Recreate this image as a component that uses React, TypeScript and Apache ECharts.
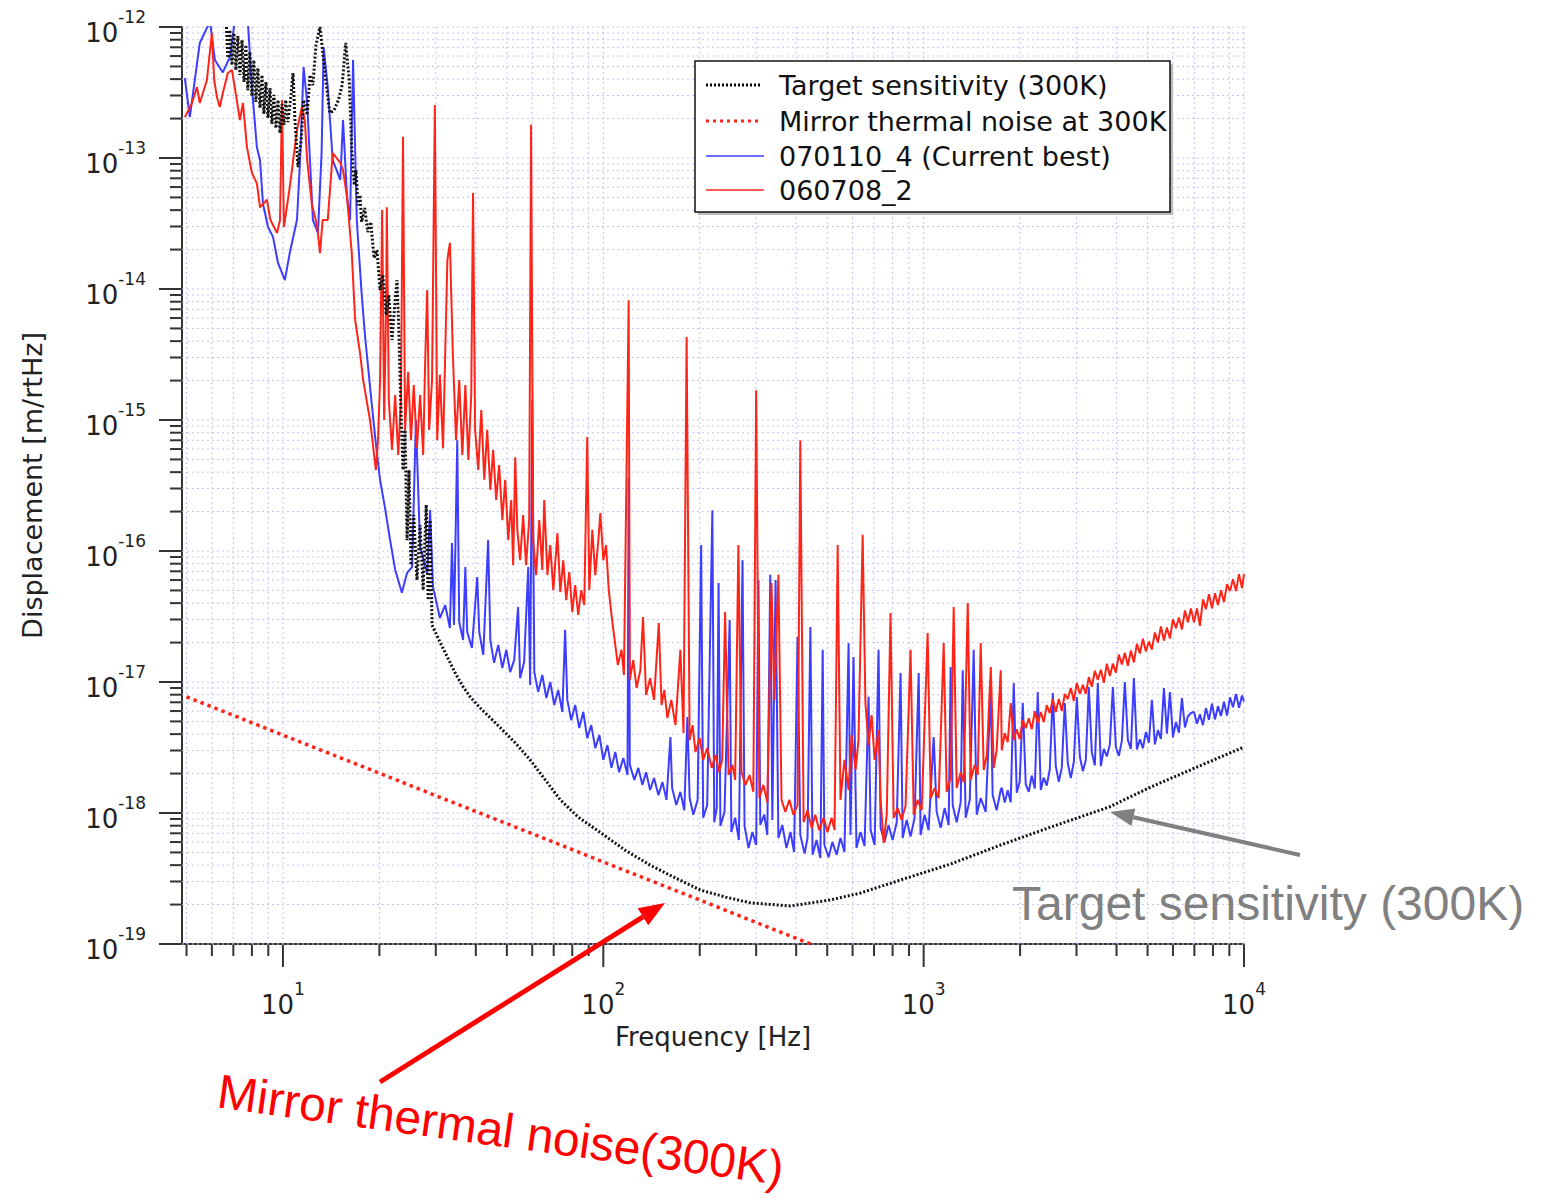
import React, { useEffect, useRef } from "react";
import * as echarts from "echarts";

const X_MIN = 4.84;
const X_MAX = 10000;
const Y_MIN = 1e-19;
const Y_MAX = 1e-12;

const seriesNames = [
  "Target sensitivity (300K)",
  "Mirror thermal noise at 300K",
  "070110_4 (Current best)",
  "060708_2",
];

const xMajorTicks = [10, 100, 1000, 10000];
const xMinorTicks = [
  5, 6, 7, 8, 9, 20, 30, 40, 50, 60, 70, 80, 90, 200, 300, 400, 500, 600, 700,
  800, 900, 2000, 3000, 4000, 5000, 6000, 7000, 8000, 9000,
];
const yMajorTicks = [1e-19, 1e-18, 1e-17, 1e-16, 1e-15, 1e-14, 1e-13, 1e-12];
const yMinorTicks = [
  2e-19, 3e-19, 4e-19, 5e-19, 6e-19, 7e-19, 8e-19, 9e-19,
  2e-18, 3e-18, 4e-18, 5e-18, 6e-18, 7e-18, 8e-18, 9e-18,
  2e-17, 3e-17, 4e-17, 5e-17, 6e-17, 7e-17, 8e-17, 9e-17,
  2e-16, 3e-16, 4e-16, 5e-16, 6e-16, 7e-16, 8e-16, 9e-16,
  2e-15, 3e-15, 4e-15, 5e-15, 6e-15, 7e-15, 8e-15, 9e-15,
  2e-14, 3e-14, 4e-14, 5e-14, 6e-14, 7e-14, 8e-14, 9e-14,
  2e-13, 3e-13, 4e-13, 5e-13, 6e-13, 7e-13, 8e-13, 9e-13,
];

// Target sensitivity (300K): [frequency Hz, displacement m/rtHz]
const targetSensitivity: [number, number][] = [
  [6.66, 1.0e-12], [6.73, 5.8e-13], [6.83, 9.5e-13], [6.93, 5.12e-13], [7.03, 9.0e-13],
  [7.13, 4.69e-13], [7.23, 8.53e-13], [7.34, 4.3e-13], [7.45, 7.95e-13], [7.56, 3.8e-13],
  [7.66, 7.3e-13], [7.77, 3.3e-13], [7.88, 6.44e-13], [8.0, 2.97e-13], [8.11, 5.59e-13],
  [8.23, 2.68e-13], [8.35, 4.86e-13], [8.48, 2.41e-13], [8.6, 4.3e-13], [8.72, 2.17e-13],
  [8.85, 3.8e-13], [8.98, 2.02e-13], [9.11, 3.42e-13], [9.24, 1.82e-13], [9.37, 3.03e-13],
  [9.51, 1.69e-13], [9.65, 2.77e-13], [9.79, 1.55e-13], [9.93, 2.58e-13], [10.07, 1.79e-13],
  [10.2, 2.77e-13], [10.36, 1.88e-13], [10.6, 3.03e-13], [10.75, 4.45e-13], [10.9, 1.95e-13],
  [11.14, 8.53e-14], [11.4, 1.37e-13], [11.6, 2.77e-13], [11.9, 2.13e-13], [12.14, 4.3e-13],
  [12.4, 3.6e-13], [12.68, 7.3e-13], [13.05, 1.0e-12], [13.34, 6.11e-13], [13.6, 3.94e-13],
  [14.0, 2.21e-13], [14.4, 2.29e-13], [14.9, 2.77e-13], [15.3, 3.6e-13], [15.7, 7.55e-13],
  [16.1, 3.94e-13], [16.4, 1.15e-13], [16.7, 6.22e-14], [16.9, 8.1e-14], [17.15, 4.37e-14],
  [17.4, 5.21e-14], [17.6, 3.25e-14], [18.0, 4.15e-14], [18.4, 2.72e-14], [18.8, 3.25e-14],
  [19.25, 1.72e-14], [19.65, 1.98e-14], [20.1, 9.8e-15], [20.5, 1.28e-14], [21.0, 6.33e-15],
  [21.4, 9.0e-15], [21.9, 4.08e-15], [22.4, 8.24e-15], [22.7, 1.17e-14], [23.0, 4.86e-15],
  [23.35, 1.19e-15], [23.7, 4.15e-16], [24.05, 8.4e-16], [24.4, 1.21e-16], [24.75, 4.15e-16],
  [25.1, 7.8e-17], [25.6, 1.88e-16], [26.2, 6.0e-17], [26.8, 1.58e-16], [27.4, 5.03e-17],
  [28.0, 2.25e-16], [28.4, 4.22e-17], [28.8, 1.72e-16], [29.2, 2.72e-17], [30.9, 2.02e-17],
  [32.6, 1.55e-17], [34.5, 1.17e-17], [36.5, 9.2e-18], [38.4, 7.7e-18], [41.3, 6.33e-18],
  [47.6, 4.5e-18], [53.2, 3.42e-18], [59.1, 2.54e-18], [65.9, 1.79e-18], [73.4, 1.26e-18],
  [83.5, 9.3e-19], [97.9, 7.1e-19], [117, 5.2e-19], [140, 4.0e-19], [168, 3.19e-19],
  [201, 2.58e-19], [241, 2.28e-19], [288, 2.06e-19], [384, 1.95e-19], [512, 2.17e-19],
  [635, 2.45e-19], [847, 3.08e-19], [1214, 4.08e-19], [1740, 5.7e-19], [2490, 7.8e-19],
  [3790, 1.11e-18], [5120, 1.58e-18], [7370, 2.32e-18], [10000, 3.19e-18],
];

// Mirror thermal noise at 300K
const mirrorThermal: [number, number][] = [
  [5.0, 7.7e-18], [444, 1.0e-19],
];

// 070110_4 (Current best)
const currentBest: [number, number][] = [
  [4.94, 4.08e-13], [5.12, 2.05e-13], [5.5, 7.55e-13], [5.75, 9.5e-13], [5.92, 1.1e-12],
  [6.13, 5.6e-13], [6.49, 4.5e-13], [6.83, 5.9e-13], [7.07, 1.1e-12], [7.77, 1.1e-12],
  [8.0, 3.48e-13], [8.29, 1.21e-13], [8.48, 9.65e-14], [8.66, 4.5e-14], [8.98, 2.97e-14],
  [9.31, 2.5e-14], [9.65, 1.58e-14], [10.14, 1.17e-14], [10.5, 1.88e-14], [11.06, 3.36e-14],
  [11.3, 9.2e-14], [11.6, 4.95e-13], [11.9, 2.63e-13], [12.4, 3.36e-14], [12.86, 2.68e-14],
  [13.2, 1.09e-13], [13.4, 7.0e-13], [13.8, 3.48e-13], [14.3, 9.65e-14], [15.1, 6.8e-14],
  [15.4, 1.95e-13], [15.85, 5.0e-14], [16.2, 3.36e-14], [16.55, 5.6e-13], [17.0, 3.36e-14],
  [17.6, 9.3e-15], [18.05, 4.3e-15], [18.7, 1.79e-15], [19.4, 7.4e-16], [20.1, 3.48e-16],
  [20.8, 2.17e-16], [21.6, 1.21e-16], [22.4, 7.2e-17], [23.5, 4.8e-17], [24.4, 6.8e-17],
  [25.3, 7.55e-17], [26.0, 1.0e-15], [26.8, 1.07e-16], [28.2, 6.8e-17], [28.8, 2.05e-16],
  [29.4, 5.3e-17], [29.8, 4.6e-17], [30.9, 3.08e-17], [32.1, 3.87e-17], [33.2, 2.58e-17],
  [33.7, 1.15e-16], [34.2, 2.72e-17], [35.0, 7.0e-16], [35.5, 2.87e-17], [36.5, 2.09e-17],
  [37.1, 7.55e-17], [37.6, 2.41e-17], [38.9, 1.82e-17], [40.4, 6.33e-17], [41.0, 2.41e-17],
  [42.2, 1.61e-17], [43.7, 1.21e-16], [44.4, 2.09e-17], [45.6, 1.4e-17], [47.0, 1.92e-17],
  [48.4, 1.28e-17], [49.8, 1.76e-17], [51.2, 1.19e-17], [52.7, 1.47e-17], [54.2, 3.73e-17],
  [55.0, 1.07e-17], [56.6, 1.42e-17], [58.3, 7.55e-17], [59.1, 9.5e-18], [60.0, 1.42e-15],
  [60.9, 1.19e-17], [62.6, 8.4e-18], [64.5, 1.13e-17], [66.4, 7.55e-18], [68.3, 1.0e-17],
  [70.3, 6.67e-18], [72.3, 8.7e-18], [74.5, 5.9e-18], [76.0, 2.5e-17], [77.2, 7.3e-18],
  [79.4, 5.1e-18], [81.7, 6.67e-18], [84.1, 4.45e-18], [86.6, 5.9e-18], [89.1, 3.73e-18],
  [91.7, 4.69e-18], [94.4, 3.13e-18], [97.2, 3.94e-18], [100, 2.54e-18], [103, 3.3e-18],
  [106, 2.21e-18], [109, 2.92e-18], [112, 2.05e-18], [115.5, 2.63e-18], [119, 1.95e-18],
  [120, 3.6e-16], [121, 2.33e-18], [125, 1.79e-18], [128.6, 2.21e-18], [132.4, 1.64e-18],
  [136, 2.05e-18], [140, 1.5e-18], [144, 1.85e-18], [148.6, 1.37e-18], [153, 1.72e-18],
  [157.5, 1.26e-18], [162, 3.8e-18], [164, 1.55e-18], [169, 1.15e-18], [174, 1.45e-18],
  [179, 1.05e-18], [183, 5.4e-18], [186, 1.3e-18], [191, 9.7e-19], [197, 1.26e-18],
  [202, 1.11e-16], [205, 9.2e-19], [211, 1.15e-18], [219, 2.05e-16], [222, 8.5e-19],
  [226, 1.09e-18], [229, 5.7e-17], [232, 7.95e-19], [239, 1.02e-18], [248, 2.97e-17],
  [251, 7.16e-19], [258, 9.2e-19], [265, 6.22e-19], [272, 8.5e-17], [276, 7.95e-19],
  [284, 5.4e-19], [292, 7.16e-19], [300, 5.7e-19], [305, 6.0e-17], [309, 8.1e-19],
  [318, 9.7e-19], [325, 6.8e-19], [332, 6.6e-17], [337, 8.85e-19], [345, 6.0e-17],
  [352, 6.44e-19], [362, 8.1e-19], [373, 5.4e-19], [384, 7.16e-19], [394, 5.03e-19],
  [404, 2.21e-17], [412, 6.8e-19], [425, 4.9e-19], [434, 6.44e-19], [443, 2.63e-17],
  [450, 4.8e-19], [463, 6.22e-19], [476, 4.53e-19], [484, 1.76e-17], [490, 5.7e-19],
  [505, 4.6e-19], [519, 6.0e-19], [535, 4.8e-19], [550, 6.44e-19], [566, 5.03e-19],
  [583, 1.98e-17], [591, 6.8e-19], [604, 1.55e-17], [617, 5.4e-19], [635, 7.16e-19],
  [654, 5.6e-19], [673, 7.7e-18], [683, 7.4e-19], [703, 5.7e-19], [723, 1.76e-17],
  [734, 7.7e-19], [755, 6.0e-19], [777, 8.1e-19], [800, 6.22e-19], [824, 8.5e-19],
  [847, 1.17e-17], [860, 6.44e-19], [885, 8.85e-19], [910, 6.6e-19], [937, 9.2e-19],
  [965, 1.17e-17], [978, 6.8e-19], [1007, 9.7e-19], [1036, 7.4e-19], [1075, 3.8e-18],
  [1098, 1.02e-18], [1130, 7.7e-19], [1163, 1.09e-18], [1197, 8.1e-19], [1214, 1.3e-17],
  [1232, 1.15e-18], [1268, 8.5e-19], [1305, 1.21e-18], [1324, 1.23e-17], [1353, 9.2e-19],
  [1393, 1.26e-18], [1433, 1.76e-17], [1464, 9.7e-19], [1507, 1.3e-18], [1562, 1.02e-18],
  [1620, 8.7e-18], [1642, 1.37e-18], [1690, 1.05e-18], [1740, 1.5e-18], [1753, 1.56e-18],
  [1791, 1.2e-18], [1830, 1.49e-18], [1870, 1.21e-18], [1911, 9.8e-18], [1953, 1.43e-18],
  [1995, 1.74e-18], [2039, 6.91e-18], [2083, 1.66e-18], [2129, 1.45e-18], [2175, 1.93e-18],
  [2223, 1.54e-18], [2271, 8.39e-18], [2321, 1.5e-18], [2371, 1.86e-18], [2423, 1.62e-18],
  [2476, 2.15e-18], [2530, 8.24e-18], [2585, 2.28e-18], [2642, 1.73e-18], [2699, 2.22e-18],
  [2758, 6.91e-18], [2818, 2.4e-18], [2880, 1.85e-18], [2943, 2.46e-18], [3007, 7.68e-18],
  [3073, 2.7e-18], [3140, 2.08e-18], [3208, 2.54e-18], [3278, 9.15e-18], [3350, 2.89e-18],
  [3423, 2.31e-18], [3497, 9.8e-18], [3574, 2.28e-18], [3652, 3.09e-18], [3731, 2.7e-18],
  [3813, 3.34e-18], [3896, 9.15e-18], [3981, 3.19e-18], [4068, 2.73e-18], [4157, 3.57e-18],
  [4247, 1.0e-17], [4340, 3.6e-18], [4435, 3.08e-18], [4532, 1.07e-17], [4631, 3.05e-18],
  [4732, 3.65e-18], [4835, 3.12e-18], [4940, 4.15e-18], [5048, 3.44e-18], [5158, 7.3e-18],
  [5271, 3.34e-18], [5386, 4.29e-18], [5503, 3.67e-18], [5623, 9.0e-18], [5746, 4.04e-18],
  [5872, 8.39e-18], [6000, 3.79e-18], [6131, 4.95e-18], [6264, 4.1e-18], [6401, 7.55e-18],
  [6541, 4.5e-18], [6683, 5.48e-18], [6829, 5.8e-18], [6978, 5.92e-18], [7131, 4.81e-18],
  [7286, 5.66e-18], [7445, 4.68e-18], [7608, 6.33e-18], [7774, 5.15e-18], [7943, 6.84e-18],
  [8117, 5.18e-18], [8294, 6.54e-18], [8475, 5.5e-18], [8660, 7.06e-18], [8849, 5.54e-18],
  [9042, 7.63e-18], [9239, 6.42e-18], [9441, 8.1e-18], [9647, 6.35e-18], [9857, 7.88e-18],
  [10000, 7.11e-18],
];

// 060708_2
const older: [number, number][] = [
  [4.94, 2.05e-13], [5.2, 2.63e-13], [5.39, 3.48e-13], [5.5, 2.63e-13], [5.79, 3.94e-13],
  [6.0, 9.0e-13], [6.1, 3.94e-13], [6.22, 2.92e-13], [6.35, 2.45e-13], [6.49, 3.13e-13],
  [6.73, 4.45e-13], [6.93, 4.7e-13], [7.07, 3.48e-13], [7.34, 1.95e-13], [7.5, 2.63e-13],
  [7.72, 1.21e-13], [8.0, 7.7e-14], [8.29, 6.4e-14], [8.48, 4.2e-14], [8.91, 4.8e-14],
  [9.14, 3.36e-14], [9.58, 2.68e-14], [9.79, 3.36e-14], [9.93, 2.77e-13], [10.07, 2.97e-14],
  [10.5, 6.0e-14], [11.06, 1.63e-13], [11.46, 2.45e-13], [11.7, 1.95e-13], [11.9, 9.65e-14],
  [12.3, 4.5e-14], [12.8, 2.97e-14], [13.05, 1.88e-14], [13.3, 3.36e-14], [13.8, 3.36e-14],
  [14.3, 1.09e-13], [15.1, 9.2e-14], [15.4, 8.1e-14], [15.85, 5.0e-14], [16.4, 1.88e-14],
  [16.8, 5.8e-15], [17.4, 3.25e-15], [17.8, 2.02e-15], [18.3, 1.35e-15], [18.7, 1.0e-15],
  [19.1, 6.44e-16], [19.5, 4.15e-16], [19.8, 7.0e-16], [20.1, 2.02e-15], [20.4, 4.0e-14],
  [20.7, 1.0e-15], [21.0, 8.2e-15], [21.1, 4.2e-14], [21.4, 1.42e-15], [21.9, 5.9e-16],
  [22.4, 1.55e-15], [22.9, 5.4e-16], [23.35, 1.42e-15], [23.7, 1.45e-13], [24.05, 8.4e-16],
  [24.6, 2.33e-15], [25.1, 7.0e-16], [25.6, 1.85e-15], [26.2, 6.1e-16], [26.8, 1.55e-15],
  [27.4, 5.4e-16], [27.8, 2.87e-15], [28.2, 9.8e-15], [28.6, 8.4e-16], [29.2, 2.02e-15],
  [29.8, 2.54e-13], [30.3, 7.0e-16], [30.9, 2.21e-15], [31.6, 6.1e-16], [32.6, 1.66e-14],
  [33.2, 2.25e-14], [33.9, 3.25e-15], [34.7, 7.0e-16], [35.5, 2.02e-15], [36.3, 5.4e-16],
  [37.1, 1.85e-15], [37.9, 4.95e-16], [38.7, 1.55e-15], [39.2, 5.4e-14], [39.8, 8.4e-16],
  [40.7, 4.15e-16], [41.6, 1.19e-15], [42.5, 3.5e-16], [43.4, 8.4e-16], [44.4, 2.92e-16],
  [45.3, 5.9e-16], [46.3, 2.45e-16], [47.3, 4.53e-16], [48.4, 1.72e-16], [49.4, 3.5e-16],
  [50.5, 1.21e-16], [51.6, 2.45e-16], [52.3, 7.8e-17], [53.1, 5.2e-16], [53.9, 1.45e-16],
  [55.0, 8.5e-17], [56.2, 1.88e-16], [57.4, 7.8e-17], [58.7, 1.72e-16], [59.5, 1.79e-13],
  [60.4, 1.21e-16], [61.7, 6.55e-17], [63.1, 1.72e-16], [64.5, 7.16e-17], [65.4, 2.45e-16],
  [66.9, 6.55e-17], [68.3, 1.11e-16], [69.8, 5.03e-17], [71.9, 1.37e-16], [73.4, 4.86e-17],
  [75.0, 8.5e-17], [76.6, 4.22e-17], [78.3, 6.91e-17], [80.0, 3.42e-17], [81.7, 5.5e-17],
  [83.5, 3.25e-17], [85.3, 5.03e-17], [87.2, 3.87e-17], [89.1, 7.4e-16], [90.4, 5.03e-17],
  [92.4, 1.45e-16], [94.4, 6.55e-17], [96.5, 1.21e-16], [97.9, 1.95e-16], [100, 8.5e-17],
  [102, 1.11e-16], [104, 5.03e-17], [107, 2.72e-17], [109, 1.92e-17], [111, 1.35e-17],
  [114, 1.76e-17], [116, 1.13e-17], [120, 8.2e-15], [121, 1.04e-17], [124, 1.47e-17],
  [127, 9.0e-18], [130.5, 1.23e-17], [133, 3.13e-17], [136, 7.95e-18], [140, 1.07e-17],
  [144, 7.3e-18], [149, 2.82e-17], [152, 6.67e-18], [155, 8.7e-18], [158.5, 5.3e-18],
  [163, 7.3e-18], [168, 4.69e-18], [174, 1.76e-17], [178, 4.08e-18], [182, 4.3e-15],
  [186, 3.6e-18], [190, 4.69e-18], [194, 2.92e-18], [200, 3.73e-18], [205, 2.54e-18],
  [211, 3.13e-18], [218, 2.21e-18], [224, 2.77e-18], [230, 2.05e-18], [235, 2.54e-18],
  [240, 3.42e-17], [246, 1.95e-18], [253, 2.33e-18], [258, 1.79e-18], [264, 1.11e-16],
  [270, 2.05e-18], [278, 1.64e-18], [286, 1.95e-18], [294, 1.45e-18], [300, 1.69e-15],
  [307, 1.3e-18], [316, 1.64e-18], [325, 1.21e-18], [335, 5.7e-17], [342, 7.3e-18],
  [352, 6.6e-17], [360, 1.26e-18], [370, 1.02e-18], [381, 1.26e-18], [392, 9.7e-19],
  [404, 1.15e-18], [412, 7.0e-16], [422, 8.5e-19], [434, 1.05e-18], [447, 7.7e-19],
  [459, 9.7e-19], [472, 7.4e-19], [487, 9.2e-19], [501, 7.16e-19], [516, 9.2e-19],
  [527, 7.4e-19], [539, 1.11e-16], [550, 1.26e-18], [566, 2.54e-18], [583, 1.5e-18],
  [596, 3.94e-18], [613, 2.13e-18], [626, 3.6e-18], [645, 1.33e-16], [658, 6.9e-18],
  [673, 3.3e-18], [688, 5.59e-18], [703, 2.54e-18], [723, 4.3e-18], [734, 1.26e-18],
  [750, 5.9e-19], [767, 9.7e-19], [788, 3.36e-17], [806, 9.2e-19], [830, 1.09e-18],
  [853, 8.85e-19], [878, 1.13e-18], [910, 1.76e-17], [931, 9.7e-19], [958, 1.26e-18],
  [986, 1.05e-18], [1029, 2.37e-17], [1052, 1.3e-18], [1082, 1.55e-18], [1114, 1.3e-18],
  [1155, 1.98e-17], [1180, 1.45e-18], [1214, 1.85e-18], [1241, 3.73e-17], [1268, 1.55e-18],
  [1305, 2.05e-18], [1334, 1.72e-18], [1373, 4.0e-17], [1402, 1.79e-18], [1443, 2.33e-18],
  [1475, 1.95e-18], [1507, 1.98e-17], [1540, 2.13e-18], [1575, 2.77e-18], [1620, 1.3e-17],
  [1655, 2.21e-18], [1690, 3.03e-18], [1740, 1.23e-17], [1753, 3.01e-18], [1791, 4.06e-18],
  [1830, 3.47e-18], [1870, 6.91e-18], [1911, 3.59e-18], [1953, 4.36e-18], [1995, 3.66e-18],
  [2039, 5.11e-18], [2083, 4.44e-18], [2129, 5.29e-18], [2175, 4.36e-18], [2223, 5.98e-18],
  [2271, 4.86e-18], [2321, 5.89e-18], [2371, 4.94e-18], [2423, 6.66e-18], [2476, 5.79e-18],
  [2530, 7.4e-18], [2585, 5.9e-18], [2642, 7.42e-18], [2699, 6.0e-18], [2758, 8.1e-18],
  [2818, 7.42e-18], [2880, 9.0e-18], [2943, 7.17e-18], [3007, 9.84e-18], [3073, 8.12e-18],
  [3140, 9.5e-18], [3208, 8.12e-18], [3278, 1.09e-17], [3350, 9.19e-18], [3423, 1.22e-17],
  [3497, 1.04e-17], [3574, 1.24e-17], [3652, 9.86e-18], [3731, 1.38e-17], [3813, 1.11e-17],
  [3896, 1.38e-17], [3981, 1.18e-17], [4068, 1.62e-17], [4157, 1.36e-17], [4247, 1.67e-17],
  [4340, 1.33e-17], [4435, 1.74e-17], [4532, 1.41e-17], [4631, 1.96e-17], [4732, 1.65e-17],
  [4835, 2.14e-17], [4940, 1.71e-17], [5048, 2.04e-17], [5158, 1.77e-17], [5271, 2.39e-17],
  [5386, 2.0e-17], [5503, 2.65e-17], [5623, 2.07e-17], [5746, 2.61e-17], [5872, 2.15e-17],
  [6000, 3.01e-17], [6131, 2.57e-17], [6264, 3.11e-17], [6401, 2.52e-17], [6541, 3.52e-17],
  [6683, 2.86e-17], [6829, 3.65e-17], [6978, 2.86e-17], [7131, 3.65e-17], [7286, 2.68e-17],
  [7445, 4.28e-17], [7608, 3.6e-17], [7774, 4.68e-17], [7943, 3.65e-17], [8117, 4.76e-17],
  [8294, 3.86e-17], [8475, 5.02e-17], [8660, 4.07e-17], [8849, 5.59e-17], [9042, 4.94e-17],
  [9239, 6.1e-17], [9441, 4.94e-17], [9647, 6.66e-17], [9857, 5.22e-17], [10000, 6.67e-17],
];

const FONT = "DejaVu Sans";
const BLUE = "#3d3dff";
const RED = "#ff2418";

function isPow10(v: number) {
  const l = Math.log10(v);
  return Math.abs(l - Math.round(l)) < 1e-6;
}

function powLabel(v: number) {
  if (!isPow10(v)) return "";
  return `{b|10}{s|${Math.round(Math.log10(v))}}`;
}

const labelRich = {
  b: { fontSize: 26, fontFamily: FONT, color: "#222", verticalAlign: "bottom", lineHeight: 38 },
  s: { fontSize: 17, fontFamily: FONT, color: "#222", verticalAlign: "top", lineHeight: 20 },
};

export default function App() {
  const ref = useRef<HTMLDivElement>(null);
  useEffect(() => {
    document.body.style.margin = "0";
    if (!ref.current) return;
    const chart = echarts.init(ref.current, undefined, { renderer: "svg" });

    const xTickData = [
      ...xMajorTicks.map((v) => [v, Y_MIN, 1]),
      ...xMinorTicks.map((v) => [v, Y_MIN, 0]),
    ];
    const yTickData = [
      ...yMajorTicks.map((v) => [X_MIN, v, 1]),
      ...yMinorTicks.map((v) => [X_MIN, v, 0]),
    ];
    const gridStyle = { stroke: "#c4c4f4", lineWidth: 1, lineDash: [2, 3] };
    const tickStyle = { stroke: "#333", lineWidth: 2 };

    const arrow = (tx: number, ty: number, hx: number, hy: number, len: number, half: number, color: string, w: number) => {
      const dx = hx - tx, dy = hy - ty;
      const L = Math.sqrt(dx * dx + dy * dy);
      const ux = dx / L, uy = dy / L;
      const bx = hx - ux * len, by = hy - uy * len;
      const nx = -uy, ny = ux;
      return [
        { type: "line", shape: { x1: tx, y1: ty, x2: bx, y2: by }, style: { stroke: color, lineWidth: w }, z: 100 },
        {
          type: "polygon",
          shape: { points: [[hx, hy], [bx + nx * half, by + ny * half], [bx - nx * half, by - ny * half]] },
          style: { fill: color },
          z: 100,
        },
      ];
    };

    const lx = 695, ly = 61;
    const rows = [85, 121, 156, 190];
    const legendGraphics: any[] = [
      { type: "rect", shape: { x: lx + 3, y: ly + 3, width: 475, height: 151 }, style: { fill: "#bbb" }, z: 90 },
      { type: "rect", shape: { x: lx, y: ly, width: 475, height: 151 }, style: { fill: "#fff", stroke: "#111", lineWidth: 1.5 }, z: 91 },
      { type: "line", shape: { x1: 706, y1: rows[0], x2: 762, y2: rows[0] }, style: { stroke: "#000", lineWidth: 3, lineDash: [2, 2] }, z: 92 },
      { type: "line", shape: { x1: 706, y1: rows[1], x2: 762, y2: rows[1] }, style: { stroke: RED, lineWidth: 3, lineDash: [3, 4] }, z: 92 },
      { type: "line", shape: { x1: 706, y1: rows[2], x2: 764, y2: rows[2] }, style: { stroke: BLUE, lineWidth: 1.5 }, z: 92 },
      { type: "line", shape: { x1: 706, y1: rows[3], x2: 764, y2: rows[3] }, style: { stroke: RED, lineWidth: 1.5 }, z: 92 },
      ...seriesNames.map((n, i) => ({
        type: "text",
        x: 779,
        y: rows[i],
        style: { text: n, fontSize: 27, fontFamily: FONT, fill: "#111", verticalAlign: "middle" },
        z: 92,
      })),
    ];

    const lineSeries = (name: string, data: [number, number][], z: number, lineStyle: any) => ({
      type: "line",
      name,
      data,
      showSymbol: false,
      symbol: "none",
      clip: true,
      z,
      lineStyle,
    });

    const option: any = {
      animation: false,
      backgroundColor: "#fff",
      grid: { left: 182, right: 298, top: 27, bottom: 254, containLabel: false },
      xAxis: {
        type: "log",
        logBase: 10,
        min: X_MIN,
        max: X_MAX,
        name: "Frequency [Hz]",
        nameLocation: "middle",
        nameGap: 80,
        nameTextStyle: { fontSize: 26, fontFamily: FONT, color: "#222" },
        axisLine: { show: true, lineStyle: { color: "#333", width: 2 } },
        axisTick: { show: false },
        splitLine: { show: false },
        axisLabel: { formatter: powLabel, margin: 36, rich: labelRich, showMinLabel: true, showMaxLabel: true },
      },
      yAxis: {
        type: "log",
        logBase: 10,
        min: Y_MIN,
        max: Y_MAX,
        name: "Displacement [m/rtHz]",
        nameLocation: "middle",
        nameGap: 136,
        nameTextStyle: { fontSize: 27, fontFamily: FONT, color: "#222" },
        axisLine: { show: true, lineStyle: { color: "#333", width: 2 } },
        axisTick: { show: false },
        splitLine: { show: false },
        axisLabel: { formatter: powLabel, margin: 36, rich: labelRich },
      },
      series: [
        {
          type: "custom",
          name: "xgrid",
          silent: true,
          clip: false,
          z: 1,
          data: xTickData,
          encode: { x: 0, y: 1 },
          renderItem: (_p: any, api: any) => {
            const v = api.value(0);
            const major = api.value(2) === 1;
            const a = api.coord([v, Y_MIN]);
            const b = api.coord([v, Y_MAX]);
            return {
              type: "group",
              children: [
                { type: "line", shape: { x1: a[0], y1: a[1], x2: b[0], y2: b[1] }, style: gridStyle },
                { type: "line", shape: { x1: a[0], y1: a[1], x2: a[0], y2: a[1] + (major ? 23 : 12) }, style: tickStyle },
              ],
            };
          },
        },
        {
          type: "custom",
          name: "ygrid",
          silent: true,
          clip: false,
          z: 1,
          data: yTickData,
          encode: { x: 0, y: 1 },
          renderItem: (_p: any, api: any) => {
            const v = api.value(1);
            const major = api.value(2) === 1;
            const a = api.coord([X_MIN, v]);
            const b = api.coord([X_MAX, v]);
            return {
              type: "group",
              children: [
                { type: "line", shape: { x1: a[0], y1: a[1], x2: b[0], y2: b[1] }, style: gridStyle },
                { type: "line", shape: { x1: a[0], y1: a[1], x2: a[0] - (major ? 23 : 12), y2: a[1] }, style: tickStyle },
              ],
            };
          },
        },
        lineSeries(seriesNames[2], currentBest, 3, { color: BLUE, width: 2 }),
        lineSeries(seriesNames[3], older, 4, { color: RED, width: 2 }),
        lineSeries(seriesNames[0], targetSensitivity, 5, { color: "#111", width: 3, type: [2, 2] }),
        lineSeries(seriesNames[1], mirrorThermal, 5, { color: RED, width: 3.5, type: [3.5, 4] }),
      ],
      graphic: [
        ...legendGraphics,
        ...arrow(1300, 855, 1110, 812, 24, 9, "#808080", 4),
        ...arrow(380, 1082, 665, 903, 26, 10, "#ff0000", 5),
        {
          type: "text",
          x: 1012,
          y: 903,
          style: { text: "Target sensitivity (300K)", fontSize: 48, fontFamily: "Liberation Sans", fill: "#808080", verticalAlign: "middle" },
          z: 100,
        },
        {
          type: "text",
          x: 218,
          y: 1091,
          rotation: -0.136,
          style: { text: "Mirror thermal noise(300K)", fontSize: 48, fontFamily: "Liberation Sans", fill: "#ff0000", verticalAlign: "middle" },
          z: 100,
        },
      ],
    };
    chart.setOption(option);
    return () => chart.dispose();
  }, []);
  return <div ref={ref} style={{ width: 1542, height: 1198 }} />;
}
